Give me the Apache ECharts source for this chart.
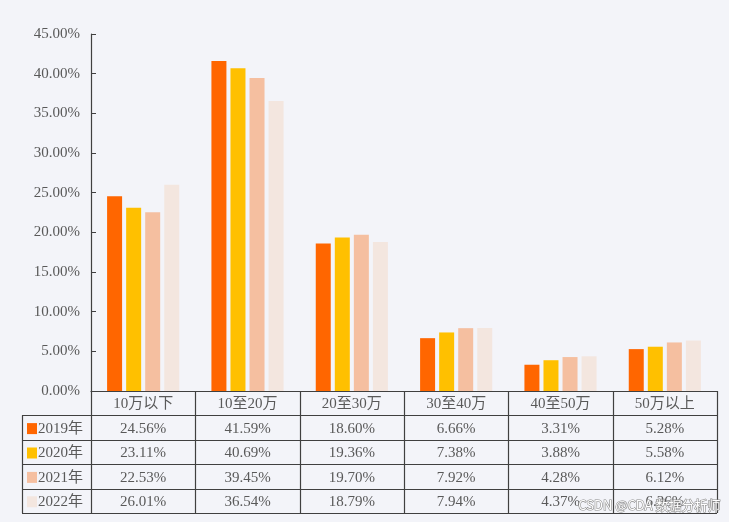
<!DOCTYPE html>
<html><head><meta charset="utf-8">
<script src="https://cdn.jsdelivr.net/npm/echarts@6/dist/echarts.min.js"></script>
<style>html,body{margin:0;padding:0;background:#f3f4f9;}#c{width:729px;height:522px;}</style>
</head><body><div id="c"></div>
<script>
const categories = ['10万以下','10至20万','20至30万','30至40万','40至50万','50万以上'];
const seriesNames = ['2019年','2020年','2021年','2022年'];
const s2019 = [24.56, 41.59, 18.60, 6.66, 3.31, 5.28];
const s2020 = [23.11, 40.69, 19.36, 7.38, 3.88, 5.58];
const s2021 = [22.53, 39.45, 19.70, 7.92, 4.28, 6.12];
const s2022 = [26.01, 36.54, 18.79, 7.94, 4.37, 6.36];
const yTicks = [0,5,10,15,20,25,30,35,40,45];

const colors = ['#ff6600','#ffc000','#f5bfa0','#f3e6df'];
const allData = [s2019, s2020, s2021, s2022];
const FONT = "'Liberation Serif','Noto Sans CJK SC',serif";
const TXT = '#595959';
const LINE = '#404040';

const W = 729, H = 522;
const plotLeft = 91, plotRight = 717, plotTop = 34, plotBottom = 391;
const tableLeft = 22, rowH = 24.4;

const chart = echarts.init(document.getElementById('c'));

function buildTable() {
  const g = [];
  const n = categories.length;
  const cw = (plotRight - plotLeft) / n;
  const nRows = seriesNames.length;
  const tableBottom = plotBottom + rowH * (nRows + 1);
  for (let r = 1; r <= nRows + 1; r++) {
    const y = Math.round(plotBottom + rowH * r) + 0.5;
    g.push({type:'line', shape:{x1:tableLeft, y1:y, x2:plotRight, y2:y}, style:{stroke:LINE, lineWidth:1.2}, silent:true});
  }
  for (let i = 0; i <= n; i++) {
    const x = Math.round(plotLeft + cw * i) + 0.5;
    g.push({type:'line', shape:{x1:x, y1:plotBottom, x2:x, y2:tableBottom}, style:{stroke:LINE, lineWidth:1.2}, silent:true});
  }
  g.push({type:'line', shape:{x1:tableLeft+0.5, y1:plotBottom+rowH, x2:tableLeft+0.5, y2:tableBottom}, style:{stroke:LINE, lineWidth:1.2}, silent:true});
  categories.forEach((c, i) => {
    g.push({type:'text', x: plotLeft + cw*(i+0.5), y: plotBottom + rowH/2 + 1,
      style:{text:c, fill:TXT, font:'15px ' + FONT, align:'center', verticalAlign:'middle'}, silent:true});
  });
  seriesNames.forEach((s, r) => {
    const yc = plotBottom + rowH*(r+1.5) + 1.5;
    g.push({type:'rect', shape:{x:tableLeft+5, y:yc-6, width:10, height:11}, style:{fill:colors[r]}, silent:true});
    g.push({type:'text', x: tableLeft+16, y: yc,
      style:{text:s, fill:TXT, font:'15px ' + FONT, align:'left', verticalAlign:'middle'}, silent:true});
    allData[r].forEach((v, i) => {
      g.push({type:'text', x: plotLeft + cw*(i+0.5), y: yc,
        style:{text:v.toFixed(2)+'%', fill:TXT, font:'15px ' + FONT, align:'center', verticalAlign:'middle'}, silent:true});
    });
  });
  g.push({type:'text', right: 8, bottom: 10,
    style:{text:'CSDN @CDA 数据分析师', fill:'#ffffff', stroke:'#8a8a8a', lineWidth:1.2, font:'13px "Noto Sans CJK SC", sans-serif'}, silent:true, z:100});
  return g;
}

chart.setOption({
  backgroundColor: '#f3f4f9',
  animation: false,
  grid: {left: plotLeft, right: W - plotRight, top: plotTop, bottom: H - plotBottom, containLabel:false},
  xAxis: {
    type: 'category', data: categories,
    axisLine: {show:true, lineStyle:{color:LINE, width:1.2}},
    axisTick: {show:false}, axisLabel:{show:false}, splitLine:{show:false}
  },
  yAxis: {
    type: 'value', min: yTicks[0], max: yTicks[yTicks.length-1], interval: 5,
    axisLine: {show:true, lineStyle:{color:LINE, width:1.2}},
    axisTick: {show:true, inside:true, length:5, lineStyle:{color:LINE}},
    splitLine: {show:false},
    axisLabel: {color:TXT, fontFamily:FONT, fontSize:15, margin:11, formatter: v => v.toFixed(2)+'%'}
  },
  series: seriesNames.map((name, k) => ({
    name, type:'bar', data: allData[k], barWidth: 15, barGap: '27%',
    itemStyle:{color: colors[k]}
  })),
  graphic: buildTable()
});
</script></body></html>
